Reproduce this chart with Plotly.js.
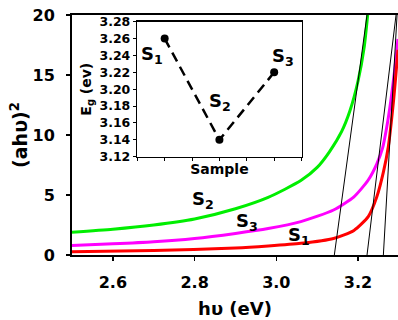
<!DOCTYPE html>
<html>
<head>
<meta charset="utf-8">
<script src="https://cdn.plot.ly/plotly-3.0.1.min.js"></script>
<style>html,body{margin:0;padding:0;background:#fff;}#chart{width:398px;height:320px;}</style>
</head>
<body>
<div id="chart"></div>
<script>
// Main chart: (ahυ)^2 versus photon energy hυ (eV)
const hv_S1 = [2.50, 2.70, 2.90, 2.98, 3.06, 3.14, 3.19, 3.225, 3.246, 3.262, 3.274, 3.287, 3.2978];
const ah_S1 = [0.28, 0.37, 0.58, 0.75, 0.97, 1.38, 2.05, 3.2, 4.85, 6.9, 9.0, 12.9, 17.1];

const hv_S2 = [2.50, 2.60, 2.70, 2.80, 2.90, 2.98, 3.06, 3.10, 3.13, 3.16, 3.18, 3.20, 3.215, 3.225];
const ah_S2 = [1.9, 2.15, 2.5, 3.0, 3.85, 4.8, 6.2, 7.3, 8.6, 10.3, 12.0, 14.5, 17.3, 20.5];

const hv_S3 = [2.50, 2.60, 2.70, 2.80, 2.90, 2.98, 3.06, 3.14, 3.19, 3.225, 3.246, 3.26, 3.27, 3.28, 3.29, 3.2978];
const ah_S3 = [0.8, 0.93, 1.1, 1.38, 1.8, 2.2, 2.78, 3.75, 4.85, 6.25, 7.6, 8.9, 10.6, 12.8, 15.5, 18.0];

// Linear extrapolation lines (x-intercept = band gap)
const fit_S1_x = [3.262, 3.2955];
const fit_S2_x = [3.142, 3.222];
const fit_S3_x = [3.222, 3.293];
const fit_y = [0, 20];

// Inset: band gap per sample
const sampleNames = ['S1', 'S2', 'S3'];
const sampleIndex = [1, 2, 3];
const bandGap = [3.26, 3.14, 3.22];

const xTickVals = [2.6, 2.8, 3.0, 3.2];

const F = '"DejaVu Sans", Verdana, sans-serif';
const bold = (s) => ({family: F, size: s, color: '#000', weight: 'bold'});

const traces = [
  {x: hv_S2, y: ah_S2, mode: 'lines', line: {color: '#00ee00', width: 3, shape: 'spline', smoothing: 0.6}, xaxis: 'x', yaxis: 'y'},
  {x: hv_S3, y: ah_S3, mode: 'lines', line: {color: '#ff00ff', width: 3, shape: 'spline', smoothing: 0.6}, xaxis: 'x', yaxis: 'y'},
  {x: hv_S1, y: ah_S1, mode: 'lines', line: {color: '#ff0000', width: 3, shape: 'spline', smoothing: 0.6}, xaxis: 'x', yaxis: 'y'},
  {x: fit_S2_x, y: fit_y, mode: 'lines', line: {color: '#000', width: 1}, xaxis: 'x', yaxis: 'y'},
  {x: fit_S3_x, y: fit_y, mode: 'lines', line: {color: '#000', width: 1}, xaxis: 'x', yaxis: 'y'},
  {x: fit_S1_x, y: fit_y, mode: 'lines', line: {color: '#000', width: 1}, xaxis: 'x', yaxis: 'y'},
  {x: sampleIndex, y: bandGap, text: sampleNames, mode: 'lines+markers',
   line: {color: '#000', width: 2.5, dash: '10px,6px'}, marker: {color: '#000', size: 8},
   xaxis: 'x2', yaxis: 'y2', cliponaxis: false}
];

const ann = (x, y, t, xr, yr) => ({x: x, y: y, xref: xr, yref: yr, text: t, showarrow: false, font: bold(18)});

const layout = {
  width: 398, height: 320,
  margin: {l: 72, r: 0, t: 15, b: 65},
  paper_bgcolor: '#fff', plot_bgcolor: '#fff',
  showlegend: false,
  xaxis: {
    range: [2.5, 3.2978], tickvals: xTickVals, tickformat: '.1f',
    ticks: 'outside', ticklen: 4, tickwidth: 1.5, tickcolor: '#000',
    showline: true, linewidth: 2, linecolor: '#000', mirror: true,
    showgrid: false, zeroline: false, tickfont: bold(16), ticklabelstandoff: 8,
    title: {text: 'hυ (eV)', font: bold(18), standoff: 11}
  },
  yaxis: {
    range: [0, 20], dtick: 5,
    ticks: 'outside', ticklen: 4, tickwidth: 1.5, tickcolor: '#000',
    showline: true, linewidth: 2, linecolor: '#000', mirror: false,
    showgrid: false, zeroline: false, tickfont: bold(16), ticklabelstandoff: 8,
    title: {text: '(ahυ)<sup>2</sup>', font: bold(19), standoff: 0}
  },
  xaxis2: {
    domain: [0.2003, 0.7041], anchor: 'y2', range: [0.5, 3.5], tick0: 0.5, dtick: 0.5,
    ticks: 'outside', ticklen: 3, tickwidth: 1, tickcolor: '#000', showticklabels: false,
    showline: true, linewidth: 1.5, linecolor: '#000', mirror: true,
    showgrid: false, zeroline: false,
    title: {text: 'Sample', font: bold(14), standoff: 4}
  },
  yaxis2: {
    domain: [0.4096, 0.9721], anchor: 'x2', range: [3.12, 3.28], dtick: 0.02, tickformat: '.2f',
    ticks: 'outside', ticklen: 3, tickwidth: 1, tickcolor: '#000',
    showline: true, linewidth: 1.5, linecolor: '#000', mirror: true,
    showgrid: false, zeroline: false, tickfont: bold(12.5),
    title: {text: 'E<sub>g</sub> (ev)', font: bold(14), standoff: 4}
  },
  annotations: [
    ann(2.82, 4.58, 'S<sub>2</sub>', 'x', 'y'),
    ann(2.928, 2.75, 'S<sub>3</sub>', 'x', 'y'),
    ann(3.055, 1.58, 'S<sub>1</sub>', 'x', 'y'),
    ann(0.762, 3.2405, 'S<sub>1</sub>', 'x2', 'y2'),
    ann(2.005, 3.1848, 'S<sub>2</sub>', 'x2', 'y2'),
    ann(3.158, 3.238, 'S<sub>3</sub>', 'x2', 'y2')
  ]
};

Plotly.newPlot('chart', traces, layout, {displayModeBar: false, staticPlot: true});
</script>
</body>
</html>
